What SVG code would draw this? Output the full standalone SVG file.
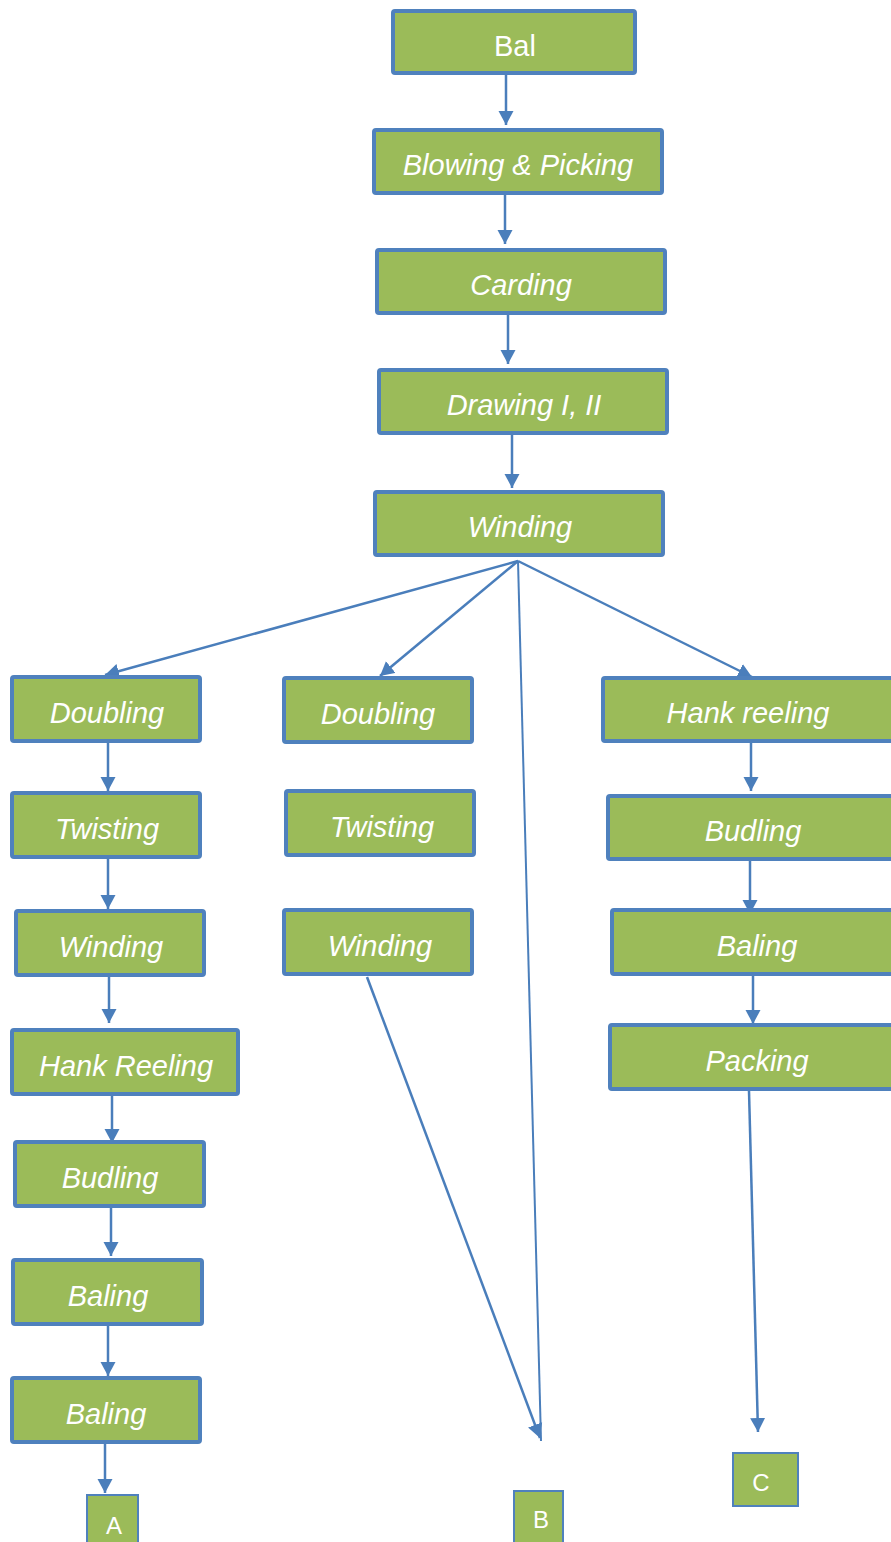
<svg xmlns="http://www.w3.org/2000/svg" width="891" height="1542" viewBox="0 0 891 1542">
<defs>
<marker id="ah" markerUnits="userSpaceOnUse" markerWidth="16" markerHeight="16" refX="14" refY="8" orient="auto"><path d="M0,0.5 L14,8 L0,15.5 Z" fill="#4A7EBB"/></marker>
<style>
.b{fill:#9BBB59;stroke:#4F81BD;stroke-width:4}
.s{fill:#9BBB59;stroke:#4F81BD;stroke-width:2}
.t{font-family:"Liberation Sans",Arial,sans-serif;font-size:29px;font-style:italic;fill:#fff;text-anchor:middle}
.u{font-family:"Liberation Sans",Arial,sans-serif;fill:#fff;text-anchor:middle}
.c{stroke:#4A7EBB;stroke-width:2.5;fill:none}
.c1{stroke:#4A7EBB;stroke-width:2;fill:none}
</style>
</defs>
<rect width="891" height="1542" fill="#fff"/>
<g id="connectors">
<line class="c" x1="506" y1="75" x2="506" y2="125" marker-end="url(#ah)"/>
<line class="c" x1="505" y1="195" x2="505" y2="244" marker-end="url(#ah)"/>
<line class="c" x1="508" y1="315" x2="508" y2="364" marker-end="url(#ah)"/>
<line class="c" x1="512" y1="435" x2="512" y2="488" marker-end="url(#ah)"/>
<line class="c" x1="518" y1="561" x2="105" y2="675" marker-end="url(#ah)"/>
<line class="c" x1="518" y1="561" x2="380" y2="676" marker-end="url(#ah)"/>
<line class="c" x1="518" y1="561" x2="752" y2="677" marker-end="url(#ah)"/>
<line class="c1" x1="518" y1="561" x2="541" y2="1441"/>
<line class="c" x1="367" y1="977" x2="540" y2="1438" marker-end="url(#ah)"/>
<line class="c" x1="749" y1="1091" x2="758" y2="1432" marker-end="url(#ah)"/>
<line class="c" x1="108" y1="743" x2="108" y2="791" marker-end="url(#ah)"/>
<line class="c" x1="108" y1="859" x2="108" y2="909" marker-end="url(#ah)"/>
<line class="c" x1="109" y1="977" x2="109" y2="1023" marker-end="url(#ah)"/>
<line class="c" x1="112" y1="1096" x2="112" y2="1143" marker-end="url(#ah)"/>
<line class="c" x1="111" y1="1208" x2="111" y2="1256" marker-end="url(#ah)"/>
<line class="c" x1="108" y1="1326" x2="108" y2="1376" marker-end="url(#ah)"/>
<line class="c" x1="105" y1="1444" x2="105" y2="1493" marker-end="url(#ah)"/>
<line class="c" x1="751" y1="743" x2="751" y2="791" marker-end="url(#ah)"/>
<line class="c" x1="750" y1="861" x2="750" y2="914" marker-end="url(#ah)"/>
<line class="c" x1="753" y1="976" x2="753" y2="1024" marker-end="url(#ah)"/>
</g>
<g id="bal"><rect class="b" x="393" y="11" width="242" height="62" rx="2"/><text class="u" x="515" y="56" font-size="29">Bal</text></g>
<g id="blowing"><rect class="b" x="374" y="130" width="288" height="63" rx="2"/><text class="t" x="518" y="175">Blowing &amp; Picking</text></g>
<g id="carding"><rect class="b" x="377" y="250" width="288" height="63" rx="2"/><text class="t" x="521" y="295">Carding</text></g>
<g id="drawing"><rect class="b" x="379" y="370" width="288" height="63" rx="2"/><text class="t" x="524" y="415">Drawing I, II</text></g>
<g id="winding-top"><rect class="b" x="375" y="492" width="288" height="63" rx="2"/><text class="t" x="520" y="537">Winding</text></g>
<g id="doubling-l"><rect class="b" x="12" y="677" width="188" height="64" rx="2"/><text class="t" x="107" y="723">Doubling</text></g>
<g id="twisting-l"><rect class="b" x="12" y="793" width="188" height="64" rx="2"/><text class="t" x="107" y="839">Twisting</text></g>
<g id="winding-l"><rect class="b" x="16" y="911" width="188" height="64" rx="2"/><text class="t" x="111" y="957">Winding</text></g>
<g id="hank-l"><rect class="b" x="12" y="1030" width="226" height="64" rx="2"/><text class="t" x="126" y="1076">Hank Reeling</text></g>
<g id="budling-l"><rect class="b" x="15" y="1142" width="189" height="64" rx="2"/><text class="t" x="110" y="1188">Budling</text></g>
<g id="baling-l1"><rect class="b" x="13" y="1260" width="189" height="64" rx="2"/><text class="t" x="108" y="1306">Baling</text></g>
<g id="baling-l2"><rect class="b" x="12" y="1378" width="188" height="64" rx="2"/><text class="t" x="106" y="1424">Baling</text></g>
<g id="doubling-m"><rect class="b" x="284" y="678" width="188" height="64" rx="2"/><text class="t" x="378" y="724">Doubling</text></g>
<g id="twisting-m"><rect class="b" x="286" y="791" width="188" height="64" rx="2"/><text class="t" x="382" y="837">Twisting</text></g>
<g id="winding-m"><rect class="b" x="284" y="910" width="188" height="64" rx="2"/><text class="t" x="380" y="956">Winding</text></g>
<g id="hank-r"><rect class="b" x="603" y="678" width="292" height="63" rx="2"/><text class="t" x="748" y="723">Hank reeling</text></g>
<g id="budling-r"><rect class="b" x="608" y="796" width="287" height="63" rx="2"/><text class="t" x="753" y="841">Budling</text></g>
<g id="baling-r"><rect class="b" x="612" y="910" width="283" height="64" rx="2"/><text class="t" x="757" y="956">Baling</text></g>
<g id="packing-r"><rect class="b" x="610" y="1025" width="285" height="64" rx="2"/><text class="t" x="757" y="1071">Packing</text></g>
<g id="A"><rect class="s" x="87" y="1495" width="51" height="52"/><text class="u" x="114" y="1534" font-size="24">A</text></g>
<g id="B"><rect class="s" x="514" y="1491" width="49" height="56"/><text class="u" x="541" y="1528" font-size="24">B</text></g>
<g id="C"><rect class="s" x="733" y="1453" width="65" height="53"/><text class="u" x="761" y="1491" font-size="24">C</text></g>
</svg>
